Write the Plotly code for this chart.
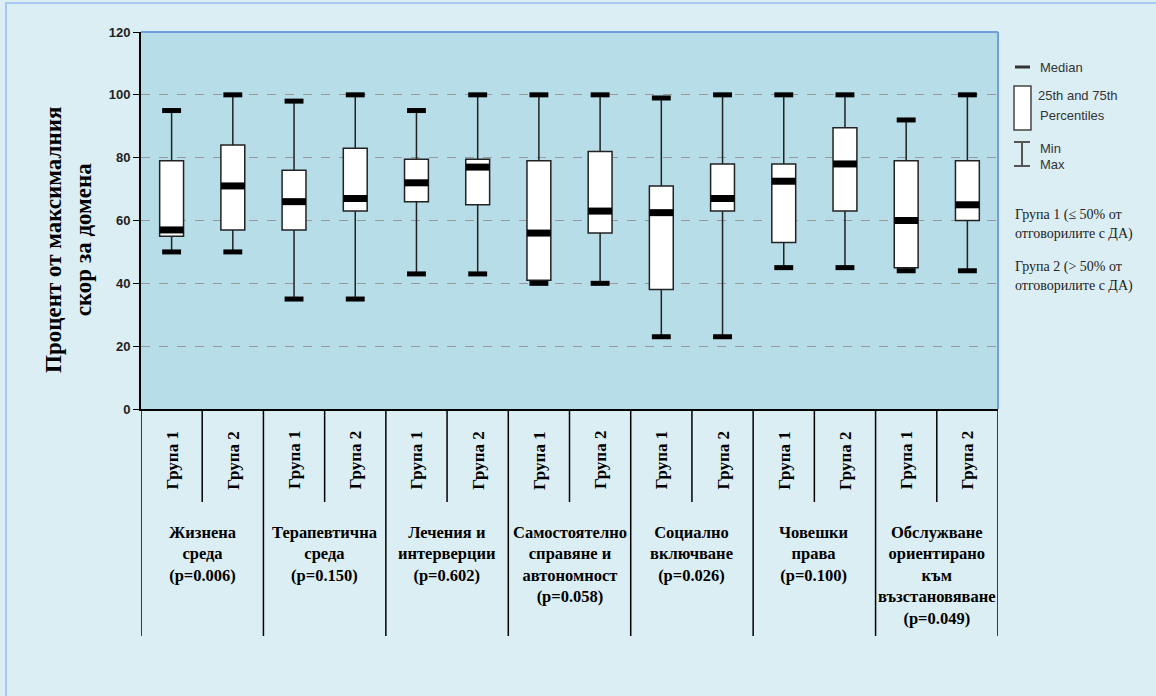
import plotly.graph_objects as go

# data (percent of max domain score)
domains = ["Жизнена<br>среда<br>(p=0.006)",
           "Терапевтична<br>среда<br>(p=0.150)",
           "Лечения и<br>интерверции<br>(p=0.602)",
           "Самостоятелно<br>справяне и<br>автономност<br>(p=0.058)",
           "Социално<br>включване<br>(p=0.026)",
           "Човешки<br>права<br>(p=0.100)",
           "Обслужване<br>ориентирано<br>към<br>възстановяване<br>(p=0.049)"]
groups = ["Група 1", "Група 2"]

mins    = [50, 50, 35, 35, 43, 43, 40, 40, 23, 23, 45, 45, 44, 44]
q1      = [55, 57, 57, 63, 66, 65, 41, 56, 38, 63, 53, 63, 45, 60]
medians = [57, 71, 66, 67, 72, 77, 56, 63, 62.5, 67, 72.5, 78, 60, 65]
q3      = [79, 84, 76, 83, 79.5, 79.5, 79, 82, 71, 78, 78, 89.5, 79, 79]
maxs    = [95, 100, 98, 100, 95, 100, 100, 100, 99, 100, 100, 100, 92, 100]

W, H = 1156, 696
L, R, T, B = 141, 998, 32, 409   # plot area in pixels

def px2x(px):
    return (px - L) / (R - L)

def px2y(py):
    return (B - py) / (B - T)

xs = list(range(len(medians)))
serif = "Liberation Serif"
sans = "Liberation Sans"

fig = go.Figure()

fig.add_trace(go.Box(
    x=xs, q1=q1, median=medians, q3=q3, lowerfence=mins, upperfence=maxs,
    fillcolor="white", line=dict(color="#222222", width=1.5),
    width=0.39, boxpoints=False, whiskerwidth=0, hoverinfo="skip",
))

# thick caps for min / max
fig.add_trace(go.Scatter(
    x=xs + xs, y=mins + maxs, mode="markers", hoverinfo="skip",
    marker=dict(symbol="line-ew", size=13.5, line=dict(color="black", width=5)),
))
# thick median bands
fig.add_trace(go.Scatter(
    x=xs, y=medians, mode="markers", hoverinfo="skip",
    marker=dict(symbol="line-ew", size=17, line=dict(color="black", width=7)),
))

shapes = []
# blue top and right border of the plot area
shapes.append(dict(type="line", xref="paper", yref="paper", x0=0, x1=1, y0=1, y1=1,
                   line=dict(color="#6f9fdc", width=2)))
shapes.append(dict(type="line", xref="paper", yref="paper", x0=1, x1=1, y0=0, y1=1,
                   line=dict(color="#6f9fdc", width=2)))
# outer frame
shapes.append(dict(type="rect", xref="paper", yref="paper",
                   x0=px2x(6), x1=px2x(1170), y0=px2y(3), y1=px2y(710),
                   line=dict(color="#a9c8f0", width=2), layer="below"))

# category dividers below the axis
for k in range(len(medians) + 1):
    long_line = k % 2 == 0
    shapes.append(dict(type="line", xref="x", yref="paper",
                       x0=k - 0.5, x1=k - 0.5, y0=0,
                       y1=px2y(636 if long_line else 502),
                       line=dict(color="black", width=1.5)))

def note(x, y, text, font, xref="paper", xanchor="center", yanchor="middle", **kw):
    return dict(x=x, y=y, xref=xref, yref="paper", text=text, showarrow=False,
                xanchor=xanchor, yanchor=yanchor, font=font, **kw)

annotations = []
for i, x in enumerate(xs):
    annotations.append(note(x, px2y(460), "<b>%s</b>" % groups[i % 2],
                            dict(family=serif, size=17, color="black"),
                            xref="x", textangle=-90))
for d, name in enumerate(domains):
    annotations.append(note(2 * d + 0.5, px2y(521), "<b>%s</b>" % name,
                            dict(family=serif, size=16.5, color="black"),
                            xref="x", yanchor="top", align="center"))

# y axis title
annotations.append(note(px2x(68), px2y(240),
                        "<b>Процент от максималния<br>скор за домена</b>",
                        dict(family=serif, size=23, color="black"), textangle=-90))

# legend drawn by hand
shapes.append(dict(type="line", xref="paper", yref="paper",
                   x0=px2x(1015), x1=px2x(1030), y0=px2y(67), y1=px2y(67),
                   line=dict(color="#333333", width=3)))
shapes.append(dict(type="rect", xref="paper", yref="paper",
                   x0=px2x(1014), x1=px2x(1031), y0=px2y(86), y1=px2y(130),
                   fillcolor="white", line=dict(color="#444444", width=1.5)))
shapes.append(dict(type="line", xref="paper", yref="paper",
                   x0=px2x(1022), x1=px2x(1022), y0=px2y(142), y1=px2y(166),
                   line=dict(color="#555555", width=2)))
for yy in (142, 166):
    shapes.append(dict(type="line", xref="paper", yref="paper",
                       x0=px2x(1014), x1=px2x(1030), y0=px2y(yy), y1=px2y(yy),
                       line=dict(color="#555555", width=2)))

legend_txt = [("Median", 1038, 67), ("25th and 75th", 1036, 96), ("Percentiles", 1038, 115),
              ("Min", 1038, 148), ("Max", 1038, 164)]
for txt, px, py in legend_txt:
    annotations.append(note(px2x(px), px2y(py), txt,
                            dict(family=sans, size=13, color="#333333"), xanchor="left"))

group_txt = [("Група 1 (≤ 50% от", 215), ("отговорилите с ДА)", 234),
             ("Група 2 (> 50% от", 267), ("отговорилите с ДА)", 286)]
for txt, py in group_txt:
    annotations.append(note(px2x(1013), px2y(py), txt,
                            dict(family=serif, size=14, color="#222222"), xanchor="left"))

fig.update_layout(
    width=W, height=H,
    margin=dict(l=L, r=W - R, t=T, b=H - B),
    paper_bgcolor="#dbeef4",
    plot_bgcolor="#b7dde8",
    showlegend=False,
    shapes=shapes,
    annotations=annotations,
    xaxis=dict(range=[-0.5, 13.5], showticklabels=False, showgrid=False,
               zeroline=False, showline=True, linecolor="black", linewidth=2),
    yaxis=dict(range=[0, 120], dtick=20, showgrid=True, gridcolor="#999999",
               griddash="dash", gridwidth=1, zeroline=False,
               showline=True, linecolor="black", linewidth=2,
               ticks="outside", ticklen=6, tickcolor="black",
               tickfont=dict(family=sans, size=13, color="#222222", weight="bold")),
)

fig.write_html("out.html", config={"displayModeBar": False},
               post_script="document.body.style.margin='0';")
